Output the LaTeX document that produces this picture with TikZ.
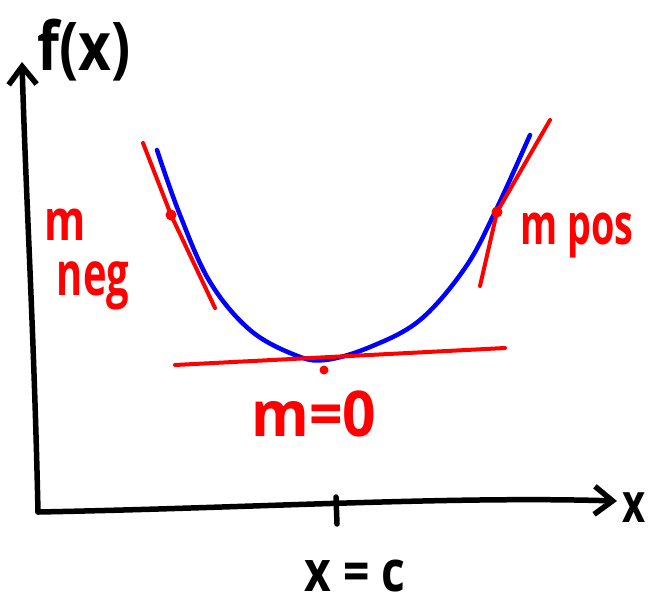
\documentclass[tikz,border=0pt]{standalone}
\usepackage{fontspec}
\setmainfont{Open Sans}
\usepackage{tikz}
\usetikzlibrary{arrows.meta}

\begin{document}
\begin{tikzpicture}[x=1pt, y=-1pt, line cap=round, line join=round,
  axis/.style={black, line width=5.5pt},
  curve/.style={blue, line width=4.5pt},
  tangent/.style={red, line width=4pt},
  touch/.style={circle, fill=red, inner sep=0pt, minimum size=11pt},
  redlabel/.style={red, font=\fontsize{42}{44}\bfseries\selectfont, inner sep=0pt},
  blacklabel/.style={black, font=\fontsize{42}{44}\bfseries\selectfont, inner sep=0pt},
  barb/.style={-{Straight Barb[length=18pt, width=28pt]}}]
\useasboundingbox (0,0) rectangle (656,605);
% axes
\coordinate (O) at (38,512);
\coordinate (ytop) at (22,62);
\coordinate (xend) at (617,501);
\draw[axis, barb] (O) .. controls (34,330) and (26,200) .. (ytop);
\draw[axis, barb] (O) .. controls (250,508) and (450,496) .. (xend);
\coordinate (tickA) at (336,497);
\coordinate (tickB) at (337,524);
\draw[axis] (tickA) -- (tickB);
\node[blacklabel] (fx) at (84,50) {\scalebox{1.35}[1.6]{f(x)}};
\node[blacklabel] (xlab) at (634,508) {\scalebox{0.95}[1.3]{x}};
\node[blacklabel] (xc) at (355,576) {\scalebox{1.1}[1.35]{x = c}};
% parabola
\draw[curve] plot[smooth, tension=0.6] coordinates {(157,150) (180,215) (210,282) (250,330) (295,355) (325,360) (370,347) (420,320) (465,268) (495,212) (530,135)};
% tangents
\node[touch] (tleft) at (171,215) {};
\node[touch] (tright) at (497,212) {};
\node[touch, minimum size=9pt] (tmin) at (324,370) {};
\coordinate (la) at (143,143);
\coordinate (lb) at (215,308);
\coordinate (ra) at (550,120);
\coordinate (rb) at (480,286);
\coordinate (ma) at (175,365);
\coordinate (mb) at (505,348);
\draw[tangent] (la) -- (tleft.center) -- (lb);
\draw[tangent] (ra) -- (tright.center) -- (rb);
\draw[tangent] (ma) -- (mb);
% slope labels
\node[redlabel] (mneg) at (65,225) {\scalebox{1.0}[1.35]{m}};
\node[redlabel] (neg) at (93,286) {\scalebox{0.95}[1.45]{neg}};
\node[redlabel] (mpos) at (577,236) {\scalebox{0.9}[1.35]{m pos}};
\node[redlabel] (mzero) at (314,414) {\scalebox{1.4}[1.5]{m=0}};
\end{tikzpicture}
\end{document}
